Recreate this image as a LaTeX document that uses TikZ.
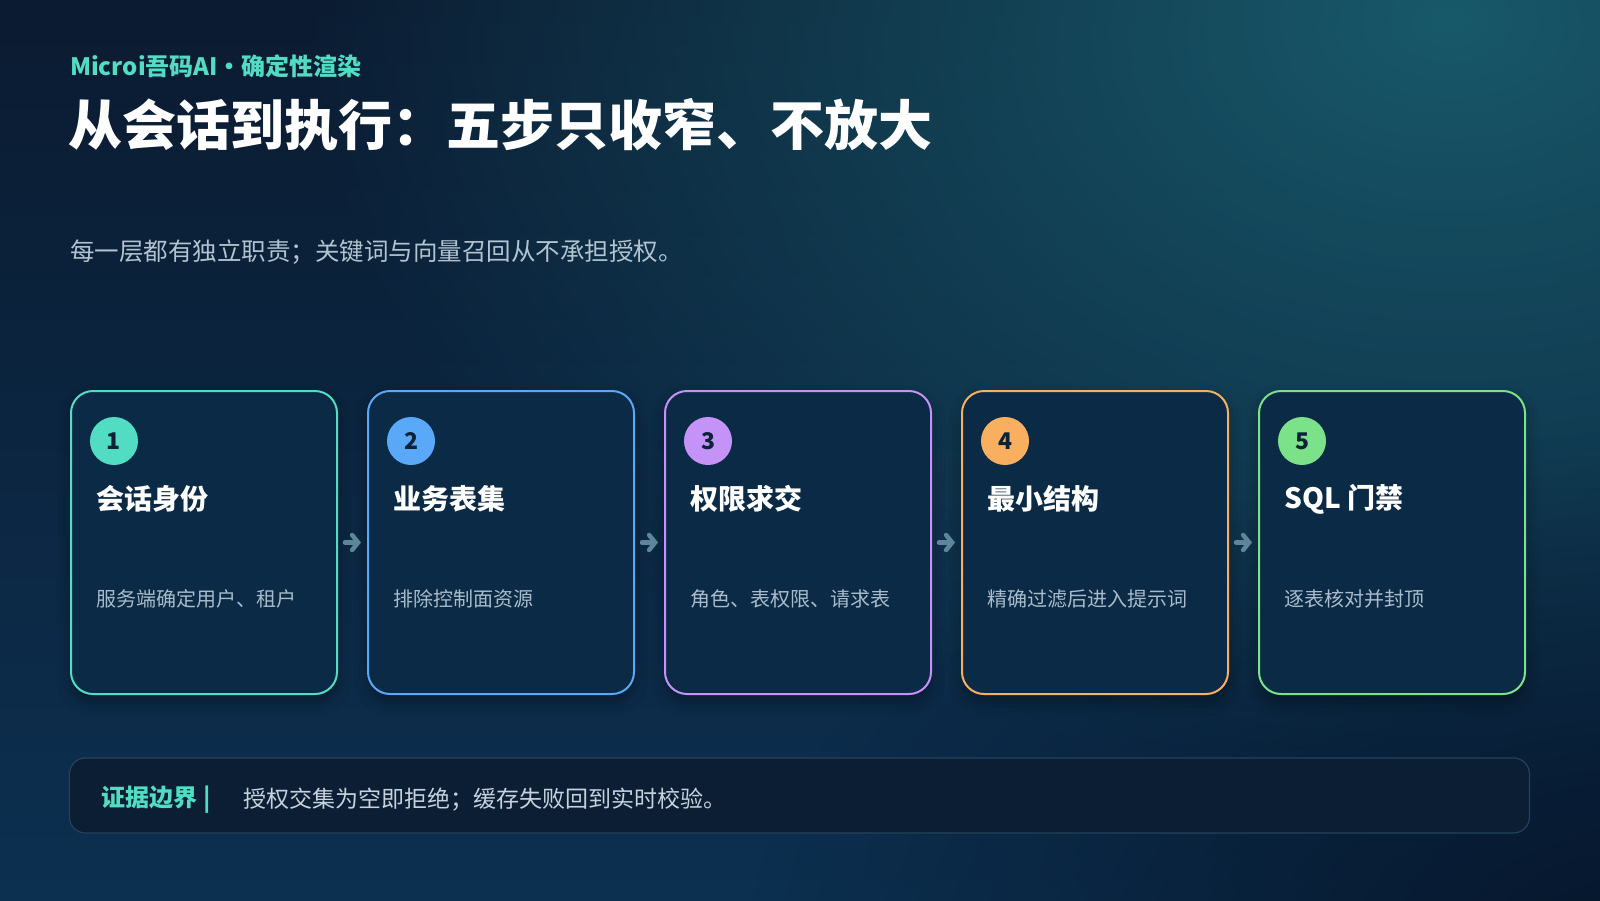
\documentclass[tikz,border=0pt]{standalone}
\usepackage{fontspec}
\setmainfont{Noto Sans CJK SC}
\usetikzlibrary{positioning,calc,arrows.meta,fadings,shadows.blur}

\definecolor{bgtop}{HTML}{0B1B31}
\definecolor{bgbottom}{HTML}{0C3050}
\definecolor{bgglow}{HTML}{18596A}
\definecolor{bgdark}{HTML}{06152A}
\definecolor{cardfill}{HTML}{0B2A45}
\definecolor{accteal}{HTML}{52DCC4}
\definecolor{accblue}{HTML}{5AA8F8}
\definecolor{accpurple}{HTML}{C592F8}
\definecolor{accorange}{HTML}{F8B060}
\definecolor{accgreen}{HTML}{7BE28A}
\definecolor{numdark}{HTML}{0C2236}
\definecolor{desctext}{HTML}{A9BCCB}
\definecolor{subtext}{HTML}{B3C4D1}
\definecolor{arrowcol}{HTML}{5D8799}
\definecolor{barfill}{HTML}{0B1E33}
\definecolor{barline}{HTML}{24425C}
\definecolor{bodytext}{HTML}{C6D2DD}

\tikzfading[name=glowfade, inner color=transparent!0, outer color=transparent!100]

\tikzset{
  card/.style={draw=#1, line width=2pt, fill=cardfill, rounded corners=22pt,
    minimum width=266pt, minimum height=303pt, inner sep=0pt,
    blur shadow={shadow xshift=0pt, shadow yshift=-8pt, shadow blur radius=14pt, shadow opacity=35}},
  badge/.style={circle, fill=#1, minimum size=48pt, inner sep=0pt, text=numdark,
    font=\bfseries\fontsize{23}{26}\selectfont},
  cardtitle/.style={anchor=west, inner sep=0pt, text=white, font=\bfseries\fontsize{28}{32}\selectfont},
  carddesc/.style={anchor=west, inner sep=0pt, text=desctext, font=\fontsize{20}{24}\selectfont},
  flow/.style={draw=arrowcol, line width=4.5pt, line cap=round,
    -{Straight Barb[length=6pt,width=15pt,line cap=round]}, shorten >=6pt, shorten <=7pt},
}

\begin{document}
\begin{tikzpicture}[x=1pt,y=-1pt]
  \useasboundingbox (0,0) rectangle (1600,900);
  % background
  \shade[top color=bgtop, bottom color=bgbottom] (0,0) rectangle (1600,900);
  \fill[bgglow, path fading=glowfade] (1450,20) ellipse (1150 and 780);
  \fill[bgdark, path fading=glowfade] (1650,950) ellipse (900 and 520);

  % header
  \node[anchor=west, inner sep=0pt, text=accteal, font=\bfseries\fontsize{24}{28}\selectfont] (kicker) at (70,66) {Microi吾码AI・确定性渲染};
  \node[anchor=west, inner sep=0pt, text=white, font=\bfseries\fontsize{54}{60}\selectfont] (headline) at (68,125) {从会话到执行：五步只收窄、不放大};
  \node[anchor=west, inner sep=0pt, text=subtext, font=\fontsize{24.5}{28}\selectfont] (lede) at (70,252) {每一层都有独立职责；关键词与向量召回从不承担授权。};

  % steps
  \node[card=accteal] (c1) at (204,542.5) {};
  \node[card=accblue, right=29pt of c1] (c2) {};
  \node[card=accpurple, right=29pt of c2] (c3) {};
  \node[card=accorange, right=29pt of c3] (c4) {};
  \node[card=accgreen, right=29pt of c4] (c5) {};

  \node[badge=accteal] (n1) at ($(c1.north west)+(44,51)$) {1};
  \node[cardtitle] (t1) at ($(c1.north west)+(26,109)$) {会话身份};
  \node[carddesc] (d1) at ($(c1.north west)+(26,209)$) {服务端确定用户、租户};

  \node[badge=accblue] (n2) at ($(c2.north west)+(44,51)$) {2};
  \node[cardtitle] (t2) at ($(c2.north west)+(26,109)$) {业务表集};
  \node[carddesc] (d2) at ($(c2.north west)+(26,209)$) {排除控制面资源};

  \node[badge=accpurple] (n3) at ($(c3.north west)+(44,51)$) {3};
  \node[cardtitle] (t3) at ($(c3.north west)+(26,109)$) {权限求交};
  \node[carddesc] (d3) at ($(c3.north west)+(26,209)$) {角色、表权限、请求表};

  \node[badge=accorange] (n4) at ($(c4.north west)+(44,51)$) {4};
  \node[cardtitle] (t4) at ($(c4.north west)+(26,109)$) {最小结构};
  \node[carddesc] (d4) at ($(c4.north west)+(26,209)$) {精确过滤后进入提示词};

  \node[badge=accgreen] (n5) at ($(c5.north west)+(44,51)$) {5};
  \node[cardtitle] (t5) at ($(c5.north west)+(26,109)$) {SQL 门禁};
  \node[carddesc] (d5) at ($(c5.north west)+(26,209)$) {逐表核对并封顶};

  \draw[flow] (c1.east) -- (c2.west);
  \draw[flow] (c2.east) -- (c3.west);
  \draw[flow] (c3.east) -- (c4.west);
  \draw[flow] (c4.east) -- (c5.west);

  % evidence bar
  \node[draw=barline, line width=1.2pt, fill=barfill, rounded corners=16pt,
    minimum width=1460pt, minimum height=75pt, inner sep=0pt] (ev) at (799.5,795.5) {};
  \node[anchor=west, inner sep=0pt, text=accteal, font=\bfseries\fontsize{24}{28}\selectfont] (evlabel) at ($(ev.west)+(32,4)$) {证据边界\hspace{6pt}|};
  \node[anchor=west, inner sep=0pt, text=bodytext, font=\fontsize{23}{28}\selectfont] (evtext) at ($(ev.west)+(174,4)$) {授权交集为空即拒绝；缓存失败回到实时校验。};
\end{tikzpicture}
\end{document}
